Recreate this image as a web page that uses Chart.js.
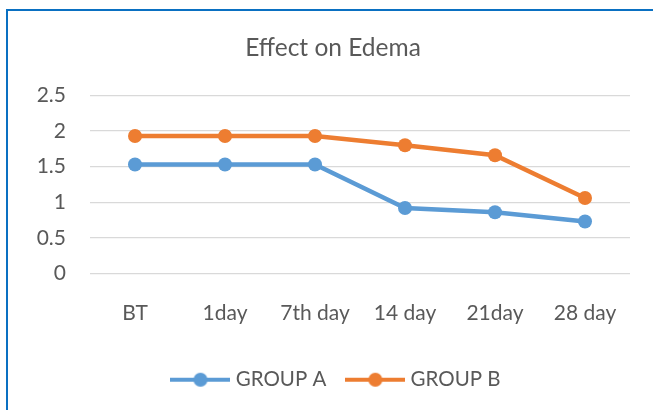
<!DOCTYPE html>
<html>
<head>
<meta charset="utf-8">
<script src="https://cdn.jsdelivr.net/npm/chart.js@4.4.1/dist/chart.umd.min.js"></script>
<style>
  html, body { margin: 0; padding: 0; background: #fff; }
  #wrap { position: relative; width: 653px; height: 410px; overflow: hidden; }
  #c { position: absolute; left: 0; top: 0; }
  #frame { position: absolute; left: 5.5px; top: 9px; width: 700px; height: 450px;
           border-top: 2px solid #0A70C2; border-left: 2.5px solid #0A70C2; pointer-events: none; }
</style>
</head>
<body>
<div id="wrap">
  <canvas id="c" width="653" height="410"></canvas>
  <div id="frame"></div>
</div>
<script>
const categories = ['BT', '1day', '7th day', '14 day', '21day', '28 day'];
const groupA = [1.53, 1.53, 1.53, 0.92, 0.86, 0.73];
const groupB = [1.93, 1.93, 1.93, 1.80, 1.66, 1.06];
const seriesNames = ['GROUP A', 'GROUP B'];
const yTicks = [0, 0.5, 1, 1.5, 2, 2.5];

const blue = '#5B9BD5';
const orange = '#ED7D31';
const FONT = 'Lato, Carlito, Calibri, sans-serif';

function legendMarker(color) {
  const cv = document.createElement('canvas');
  cv.width = 60; cv.height = 16;
  const g = cv.getContext('2d');
  g.strokeStyle = color; g.lineWidth = 4; g.lineCap = 'butt';
  g.beginPath(); g.moveTo(0, 8); g.lineTo(60, 8); g.stroke();
  g.fillStyle = color;
  g.beginPath(); g.arc(30, 8, 7, 0, Math.PI * 2); g.fill();
  return cv;
}
const markers = [legendMarker(blue), legendMarker(orange)];

const shiftBoxes = {
  id: 'shiftBoxes',
  afterLayout(chart) {
    if (chart.legend) { chart.legend.left += 23; chart.legend.right += 23; }
    if (chart.titleBlock) { chart.titleBlock.left += 18; chart.titleBlock.right += 18; }
  }
};

new Chart(document.getElementById('c'), {
  type: 'line',
  data: {
    labels: categories,
    datasets: [
      { label: seriesNames[0], data: groupA, borderColor: blue, backgroundColor: blue,
        borderWidth: 4.5, pointRadius: 7, pointHoverRadius: 7, pointBorderWidth: 0, tension: 0 },
      { label: seriesNames[1], data: groupB, borderColor: orange, backgroundColor: orange,
        borderWidth: 4.5, pointRadius: 7, pointHoverRadius: 7, pointBorderWidth: 0, tension: 0 }
    ]
  },
  plugins: [shiftBoxes],
  options: {
    responsive: false,
    animation: false,
    devicePixelRatio: 1,
    layout: { padding: { left: 0, right: 23, top: 0, bottom: 10 } },
    plugins: {
      tooltip: { enabled: false },
      title: {
        display: true, text: 'Effect on Edema', color: '#595959',
        font: { family: FONT, size: 24.5, weight: 'normal' },
        padding: { top: 33, bottom: 33 }
      },
      legend: {
        display: true, position: 'bottom',
        labels: {
          color: '#595959', font: { family: FONT, size: 20.5 },
          usePointStyle: true, pointStyleWidth: 50, boxHeight: 16, padding: 24,
          generateLabels(chart) {
            const items = Chart.defaults.plugins.legend.labels.generateLabels(chart);
            items.forEach((it, i) => { it.pointStyle = markers[i]; });
            return items;
          }
        }
      }
    },
    scales: {
      x: {
        type: 'category', offset: true,
        grid: { display: false, drawTicks: false },
        border: { display: false },
        ticks: { color: '#595959', font: { family: FONT, size: 21 }, padding: 27, maxRotation: 0, autoSkip: false },
        afterFit(s) { s.height = 72; }
      },
      y: {
        min: 0, max: 2.5,
        afterBuildTicks(s) { s.ticks = yTicks.map(v => ({ value: v })); },
        grid: { color: '#D9D9D9', lineWidth: 1.3, drawTicks: false },
        border: { display: false },
        ticks: { color: '#595959', font: { family: FONT, size: 21 }, padding: 24,
                 callback: v => String(v) },
        afterFit(s) { s.width = 90; }
      }
    }
  }
});
</script>
</body>
</html>
